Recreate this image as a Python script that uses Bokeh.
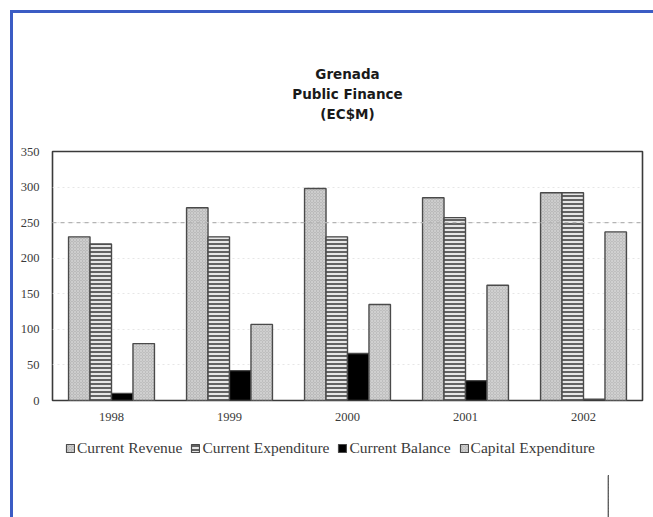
from bokeh.plotting import figure
from bokeh.layouts import column
from bokeh.models import (ColumnDataSource, Legend, LegendItem, Title, Span,
                          FactorRange, FixedTicker)
from bokeh.transform import dodge
from bokeh.embed import file_html
from bokeh.resources import INLINE

# Grenada public finance, EC$ millions
years = ["1998", "1999", "2000", "2001", "2002"]
current_revenue = [230, 271, 298, 285, 292]
current_expenditure = [220, 230, 230, 257, 292]
current_balance = [10, 42, 66, 28, 2]
capital_expenditure = [80, 107, 135, 162, 237]
series_names = ["Current Revenue", "Current Expenditure", "Current Balance", "Capital Expenditure"]
y_ticks = [0, 50, 100, 150, 200, 250, 300, 350]
title_lines = ["Grenada", "Public Finance", "(EC$M)"]

source = ColumnDataSource(dict(
    year=years,
    rev=current_revenue,
    exp=current_expenditure,
    bal=current_balance,
    cap=capital_expenditure,
))

p = figure(
    width=640, height=420,
    frame_width=590, frame_height=249,
    x_range=FactorRange(*years, range_padding=0),
    y_range=(0, 350),
    output_backend="svg", toolbar_location=None,
    min_border_left=39, min_border_right=11,
    min_border_top=138, min_border_bottom=33,
    background_fill_color="white", border_fill_color="white",
)

bw = 0.182
styles = [
    dict(col="rev", off=-0.273, fill="#bababa", hatch="x", hcol="#d2d2d2", hscale=3.0, hw=0.8),
    dict(col="exp", off=-0.091, fill="#e6e6e6", hatch="-", hcol="#2a2a2a", hscale=4.0, hw=1.4),
    dict(col="bal", off=0.091, fill="#000000", hatch=" ", hcol="#000000", hscale=4.0, hw=1.0),
    dict(col="cap", off=0.273, fill="#bebebe", hatch="x", hcol="#d4d4d4", hscale=3.0, hw=0.8),
]

for s in styles:
    p.vbar(
        x=dodge("year", s["off"], range=p.x_range), top=s["col"], width=bw,
        source=source, fill_color=s["fill"], line_color="#4a4a4a", line_width=1.4,
        hatch_pattern=s["hatch"], hatch_color=s["hcol"], hatch_scale=s["hscale"],
        hatch_weight=s["hw"],
    )

# axes
p.yaxis.ticker = FixedTicker(ticks=y_ticks)
for ax in (p.xaxis, p.yaxis):
    ax.axis_line_color = None
    ax.major_tick_line_color = None
    ax.minor_tick_line_color = None
    ax.major_label_text_font = "Liberation Serif"
    ax.major_label_text_font_size = "12.5px"
    ax.major_label_text_color = "#3a3a3a"
p.xaxis.major_label_standoff = 6
p.yaxis.major_label_standoff = 7

p.xgrid.grid_line_color = None
p.ygrid.grid_line_color = "#e6e6e6"
p.ygrid.grid_line_dash = "2 3"
p.add_layout(Span(location=250, dimension="width", line_color="#b4b4b4",
                  line_dash="4 4", line_width=1.2))

p.outline_line_color = "#3a3a3a"
p.outline_line_width = 1.6

# spacer between the frame and the title block
p.add_layout(Title(text=" ", text_font_size="1px", standoff=26), "above")
# three-line title, stacked outward from the frame
for t in reversed(title_lines):
    p.add_layout(Title(
        text=t, align="center", text_font="DejaVu Sans", text_font_style="bold",
        text_font_size="13.5px", text_color="#1a1a1a", standoff=2,
    ), "above")

# legend strip under the chart; its swatches share the bar styles and
# sit on a single point outside the strip's visible range
q = figure(
    width=606, height=84, x_range=(0, 1), y_range=(0, 1),
    output_backend="svg", toolbar_location=None,
    x_axis_location=None, y_axis_location=None,
    min_border=0, outline_line_color=None,
    background_fill_color="white", border_fill_color="white",
)
q.grid.grid_line_color = None
swatches = []
for s in styles:
    swatches.append(q.vbar(
        x=[5], top=[0.5], width=bw, fill_color=s["fill"], line_color="#4a4a4a",
        line_width=1.2, hatch_pattern=s["hatch"], hatch_color=s["hcol"],
        hatch_scale=s["hscale"], hatch_weight=s["hw"],
    ))

legend = Legend(
    items=[LegendItem(label=n, renderers=[r]) for n, r in zip(series_names, swatches)],
    orientation="horizontal", location="top_center",
    label_text_font="Liberation Serif", label_text_font_size="15.5px",
    label_text_color="#3a3a3a", glyph_width=10, glyph_height=10,
    spacing=8, label_standoff=2, padding=2, margin=6,
    border_line_color=None, background_fill_alpha=0,
)
q.add_layout(legend, "center")

page = column(
    p, q, spacing=0, margin=(10, 0, 0, 10),
    # blue edge along the top and left of the page
    styles={"border-top": "3px solid #3b5cc4", "border-left": "3px solid #3b5cc4"},
)

open("out.html", "w").write(file_html(page, INLINE))
